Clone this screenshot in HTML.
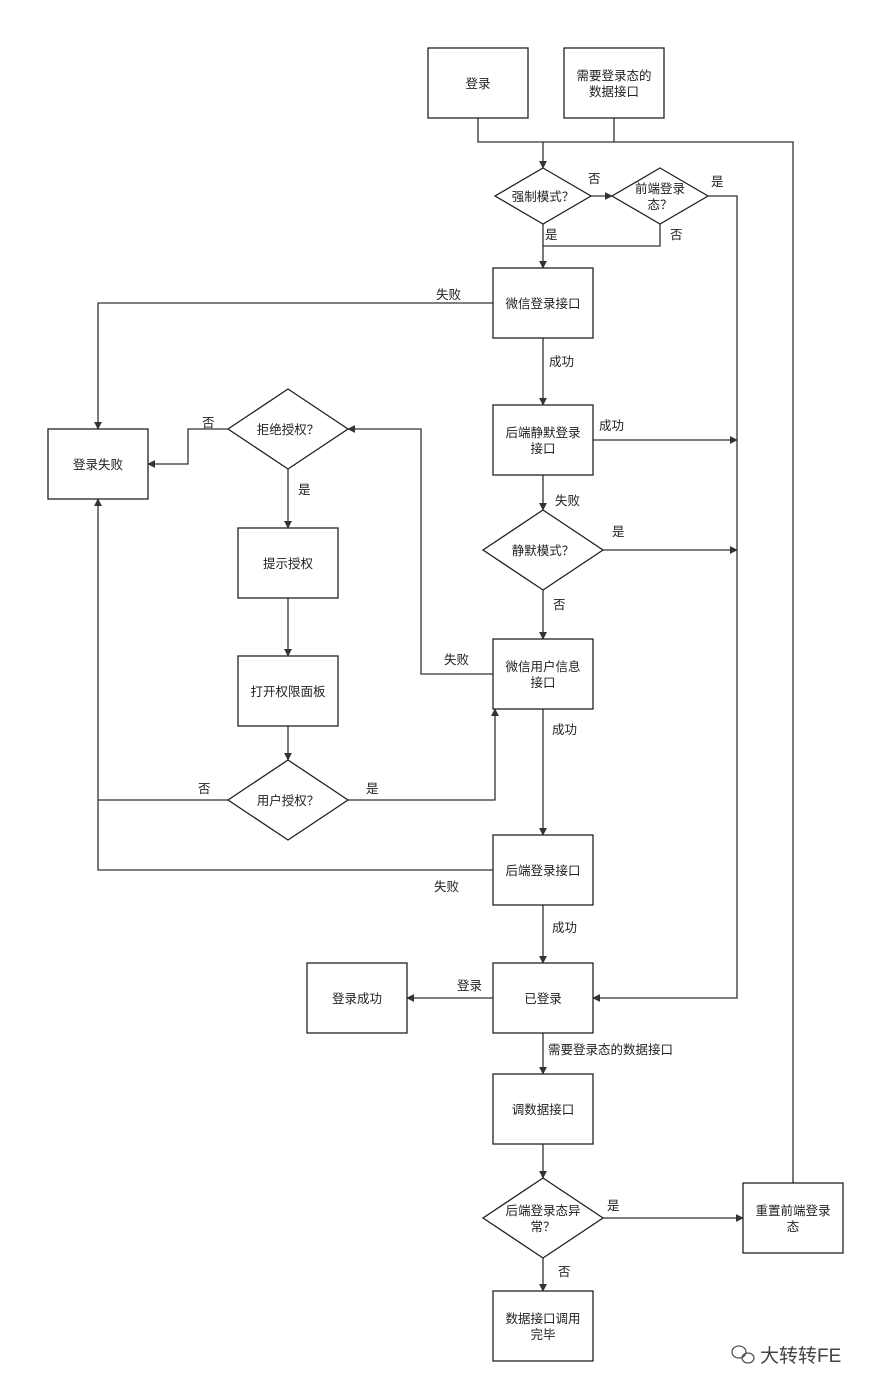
<!DOCTYPE html>
<html><head><meta charset="utf-8"><style>
html,body{margin:0;padding:0;background:#fff}
svg{display:block}
text{font-family:"Liberation Sans","Noto Sans CJK SC",sans-serif;font-size:12.5px;fill:#222}
.b{fill:#fff;stroke:#222;stroke-width:1.3}
.l{fill:none;stroke:#333;stroke-width:1.3}
</style></head><body>
<svg width="875" height="1393" viewBox="0 0 875 1393" xmlns="http://www.w3.org/2000/svg">
<defs><marker id="a" viewBox="0 0 10 10" refX="9" refY="5" markerWidth="8" markerHeight="8" orient="auto" markerUnits="userSpaceOnUse"><path d="M0,0 L10,5 L0,10 z" fill="#333"/></marker></defs>

<!-- connectors -->
<g class="l">
<path d="M478,118 V142 H793 V1183"/>
<path d="M614,118 V142"/>
<path d="M543,142 V168" marker-end="url(#a)"/>
<path d="M591,196 H612" marker-end="url(#a)"/>
<path d="M543,224 V268" marker-end="url(#a)"/>
<path d="M660,224 V246 H543"/>
<path d="M708,196 H737 V998 H593" marker-end="url(#a)"/>
<path d="M493,303 H98 V429" marker-end="url(#a)"/>
<path d="M543,338 V405" marker-end="url(#a)"/>
<path d="M593,440 H737" marker-end="url(#a)"/>
<path d="M543,475 V510" marker-end="url(#a)"/>
<path d="M603,550 H737" marker-end="url(#a)"/>
<path d="M543,590 V639" marker-end="url(#a)"/>
<path d="M493,674 H421 V429 H348" marker-end="url(#a)"/>
<path d="M543,709 V835" marker-end="url(#a)"/>
<path d="M228,429 H188 V464 H148" marker-end="url(#a)"/>
<path d="M288,469 V528" marker-end="url(#a)"/>
<path d="M288,598 V656" marker-end="url(#a)"/>
<path d="M288,726 V760" marker-end="url(#a)"/>
<path d="M348,800 H495 V709" marker-end="url(#a)"/>
<path d="M228,800 H98"/>
<path d="M493,870 H98 V499" marker-end="url(#a)"/>
<path d="M543,905 V963" marker-end="url(#a)"/>
<path d="M493,998 H407" marker-end="url(#a)"/>
<path d="M543,1033 V1074" marker-end="url(#a)"/>
<path d="M543,1144 V1178" marker-end="url(#a)"/>
<path d="M603,1218 H743" marker-end="url(#a)"/>
<path d="M543,1258 V1291" marker-end="url(#a)"/>
</g>

<!-- boxes -->
<g class="b">
<rect x="428" y="48" width="100" height="70"/>
<rect x="564" y="48" width="100" height="70"/>
<rect x="493" y="268" width="100" height="70"/>
<rect x="493" y="405" width="100" height="70"/>
<rect x="493" y="639" width="100" height="70"/>
<rect x="493" y="835" width="100" height="70"/>
<rect x="493" y="963" width="100" height="70"/>
<rect x="307" y="963" width="100" height="70"/>
<rect x="493" y="1074" width="100" height="70"/>
<rect x="493" y="1291" width="100" height="70"/>
<rect x="743" y="1183" width="100" height="70"/>
<rect x="48" y="429" width="100" height="70"/>
<rect x="238" y="528" width="100" height="70"/>
<rect x="238" y="656" width="100" height="70"/>
<path d="M543,168 L591,196 L543,224 L495,196 Z"/>
<path d="M660,168 L708,196 L660,224 L612,196 Z"/>
<path d="M543,510 L603,550 L543,590 L483,550 Z"/>
<path d="M543,1178 L603,1218 L543,1258 L483,1218 Z"/>
<path d="M288,389 L348,429 L288,469 L228,429 Z"/>
<path d="M288,760 L348,800 L288,840 L228,800 Z"/>
</g>

<!-- node labels -->
<g text-anchor="middle">
<text x="478" y="88">登录</text>
<text x="614" y="80">需要登录态的</text><text x="614" y="96">数据接口</text>
<text x="543" y="201">强制模式？</text>
<text x="660" y="193">前端登录</text><text x="660" y="209">态？</text>
<text x="543" y="308">微信登录接口</text>
<text x="543" y="437">后端静默登录</text><text x="543" y="453">接口</text>
<text x="543" y="555">静默模式？</text>
<text x="543" y="671">微信用户信息</text><text x="543" y="687">接口</text>
<text x="543" y="875">后端登录接口</text>
<text x="543" y="1003">已登录</text>
<text x="357" y="1003">登录成功</text>
<text x="543" y="1114">调数据接口</text>
<text x="543" y="1215">后端登录态异</text><text x="543" y="1231">常？</text>
<text x="543" y="1323">数据接口调用</text><text x="543" y="1339">完毕</text>
<text x="793" y="1215">重置前端登录</text><text x="793" y="1231">态</text>
<text x="98" y="469">登录失败</text>
<text x="288" y="434">拒绝授权？</text>
<text x="288" y="568">提示授权</text>
<text x="288" y="696">打开权限面板</text>
<text x="288" y="805">用户授权？</text>
</g>

<!-- edge labels -->
<text x="588" y="183">否</text>
<text x="711" y="186">是</text>
<text x="545" y="239">是</text>
<text x="670" y="239">否</text>
<text x="436" y="299">失败</text>
<text x="549" y="366">成功</text>
<text x="599" y="430">成功</text>
<text x="555" y="505">失败</text>
<text x="612" y="536">是</text>
<text x="553" y="609">否</text>
<text x="444" y="664">失败</text>
<text x="552" y="734">成功</text>
<text x="202" y="427">否</text>
<text x="298" y="494">是</text>
<text x="366" y="793">是</text>
<text x="198" y="793">否</text>
<text x="434" y="891">失败</text>
<text x="552" y="932">成功</text>
<text x="457" y="990">登录</text>
<text x="548" y="1054">需要登录态的数据接口</text>
<text x="607" y="1210">是</text>
<text x="558" y="1276">否</text>

<!-- watermark -->
<g fill="none" stroke="#555" stroke-width="1.3">
<ellipse cx="739" cy="1352" rx="7" ry="6"/>
<ellipse cx="748" cy="1358" rx="6" ry="5"/>
</g>
<text x="760" y="1362" style="font-size:19px;fill:#444">大转转FE</text>
</svg>
</body></html>
